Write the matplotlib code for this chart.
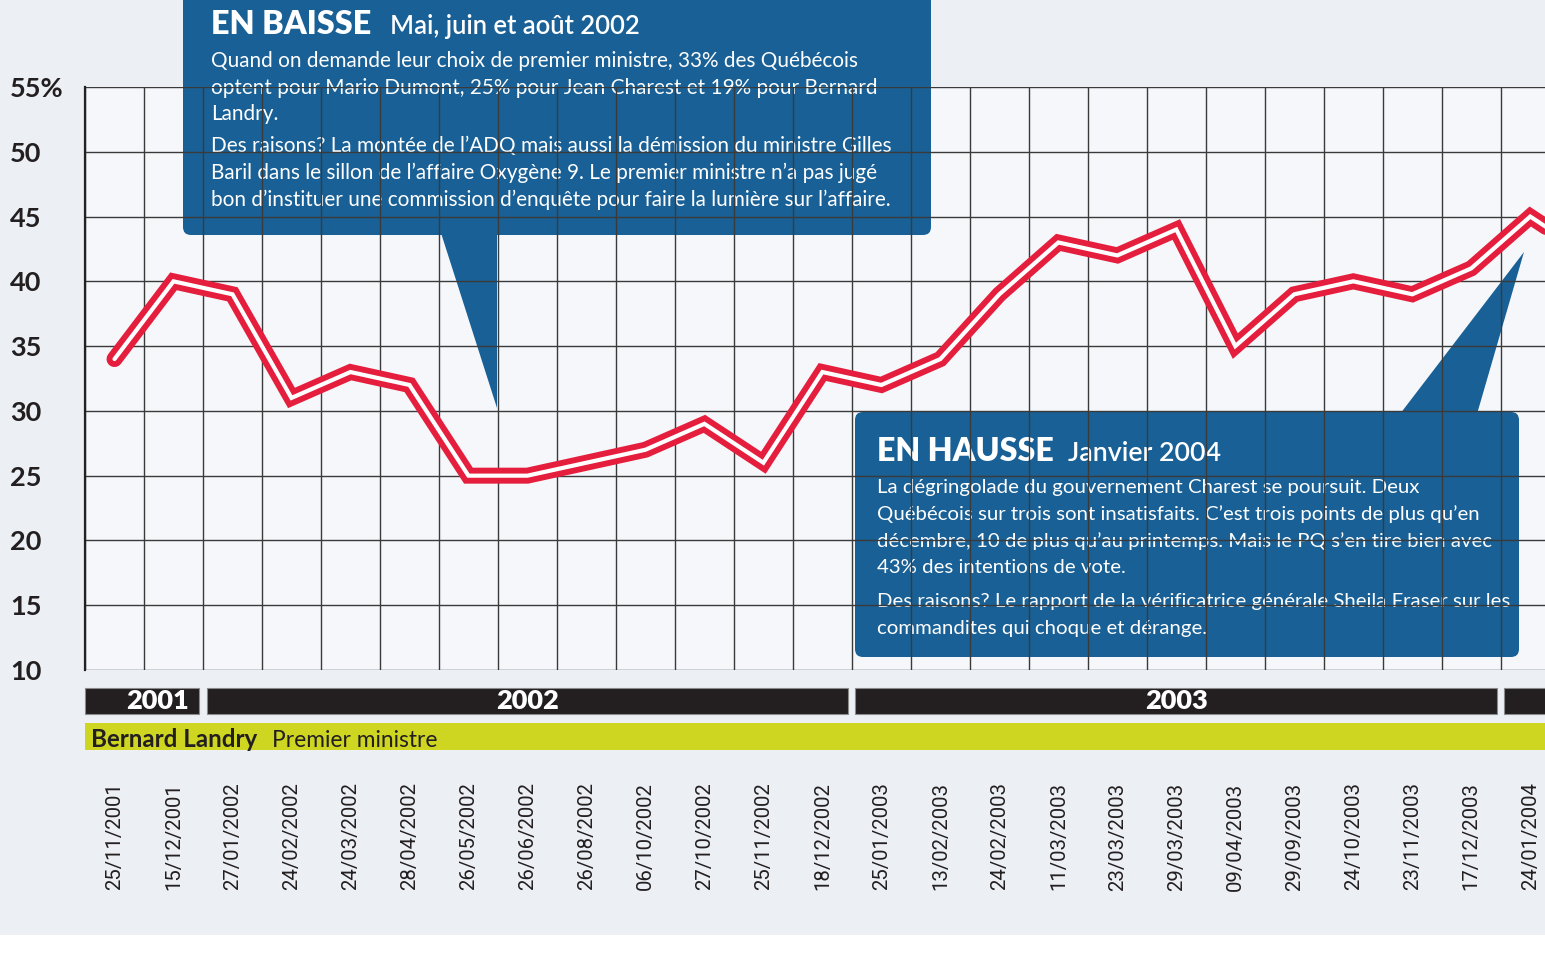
import matplotlib
matplotlib.use('Agg')
import matplotlib.pyplot as plt
from matplotlib.patches import FancyBboxPatch, Polygon, Rectangle
from matplotlib.transforms import Affine2D, blended_transform_factory
import numpy as np

# ---------------- data ----------------
dates = ['25/11/2001', '15/12/2001', '27/01/2002', '24/02/2002', '24/03/2002',
         '28/04/2002', '26/05/2002', '26/06/2002', '26/08/2002', '06/10/2002',
         '27/10/2002', '25/11/2002', '18/12/2002', '25/01/2003', '13/02/2003',
         '24/02/2003', '11/03/2003', '23/03/2003', '29/03/2003', '09/04/2003',
         '29/09/2003', '24/10/2003', '23/11/2003', '17/12/2003', '24/01/2004']
values = [34, 40, 39, 31, 33, 32, 25, 25, 26, 27, 29, 26, 33, 32, 34,
          39, 43, 42, 44, 35, 39, 40, 39, 41, 45]
next_value = 42          # following poll, cut off by the right edge
y_ticks = [10, 15, 20, 25, 30, 35, 40, 45, 50, 55]
y_labels = ['10', '15', '20', '25', '30', '35', '40', '45', '50', '55%']
years = ['2001', '2002', '2003', '']
year_bounds = [-0.5, 1.5, 12.5, 23.5, 26.5]
year_label_x = [0.73, 7.0, 18.0, 25.0]

# ---------------- style ----------------
W, H = 1545, 969
BG = '#eceff4'
PLOT_BG = '#f5f7fa'
BLUE = '#186096'
RED = '#e41e3c'
GREEN = '#cfd622'
DARK = '#231f20'
FONT = 'Lato'
DATE_FONT = ['Roboto', 'DejaVu Sans']
DATE_LEN = 108

fig = plt.figure(figsize=(W / 100, H / 100), dpi=100, facecolor='white')
fig.patches.append(Rectangle((0, 1 - 935 / H), 1, 935 / H, transform=fig.transFigure,
                             facecolor=BG, edgecolor='none', zorder=-10))
pix = Affine2D().scale(1 / W, -1 / H).translate(0, 1) + fig.transFigure
renderer = fig.canvas.get_renderer()

ax = fig.add_axes([85 / W, 1 - 670 / H, 1 - 85 / W, (670 - 87) / H])
ax.set_facecolor(PLOT_BG)

for s in ['top', 'right', 'bottom']:
    ax.spines[s].set_visible(False)
ax.spines['left'].set_color('#222222')
ax.spines['left'].set_linewidth(1.6)
ax.spines['left'].set_zorder(5)

x = np.arange(len(dates))
ax.set_xticks(x)
ax.set_xticklabels(dates, rotation=90, fontfamily=DATE_FONT, color=DARK)
ax.set_xticks(np.arange(-0.5, 25, 1), minor=True)
ax.tick_params(axis='x', which='both', length=0, pad=81)
ax.set_yticks(y_ticks)
ax.set_yticklabels(y_labels, fontfamily=FONT, fontsize=19.5, fontweight='bold', color=DARK)
ax.tick_params(axis='y', length=0, pad=54)
for lab in ax.get_yticklabels():
    lab.set_horizontalalignment('left')
ax.set_xlim(-0.5, 24.25)
ax.set_ylim(10, 55)

# fit date label size to the reference length
labs = ax.get_xticklabels()
for lab in labs:
    lab.set_fontsize(18)
h0 = labs[0].get_window_extent(renderer).height
for lab in labs:
    lab.set_fontsize(18 * DATE_LEN / h0)

ax.set_axisbelow(False)
ax.grid(which='minor', axis='x', color='#3a3a3a', linewidth=1.0)
ax.grid(which='major', axis='x', visible=False)
ax.grid(which='major', axis='y', color='#3a3a3a', linewidth=1.0)

# ---------------- series ----------------
xs = np.arange(len(values) + 1)
ys = values + [next_value]
ax.plot(xs, ys, color=RED, linewidth=11.5, solid_capstyle='round',
        solid_joinstyle='miter', zorder=3)
ax.plot(xs, ys, color='white', linewidth=3.0, solid_capstyle='round',
        solid_joinstyle='miter', zorder=4)

# ---------------- year band & premier band ----------------
band = blended_transform_factory(ax.transData, fig.transFigure)
gap = 0.12
for i, yr in enumerate(years):
    x0 = year_bounds[i] + (gap / 2 if i > 0 else 0)
    x1 = year_bounds[i + 1] - gap / 2
    r = Rectangle((x0, 1 - 714 / H), x1 - x0, 26 / H, transform=band,
                  facecolor=DARK, edgecolor='#8a8a8a', linewidth=0.8)
    ax.add_patch(r)
    r.set_clip_on(False)
    if yr:
        ax.text(year_label_x[i], 1 - 701 / H, yr, transform=band, ha='center', va='center',
                color='white', fontfamily=FONT, fontweight='heavy', fontsize=19.5, clip_on=False)

g = Rectangle((-0.5, 1 - 750 / H), 27, 27 / H, transform=band, facecolor=GREEN,
              edgecolor='none')
ax.add_patch(g)
g.set_clip_on(False)


def fitted_text(xp, yp, s, target_w, color='white', z=1.5, **kw):
    t = ax.text(xp, yp, s, transform=pix, ha='left', va='baseline', color=color,
                fontfamily=FONT, zorder=z, **kw)
    size = t.get_fontsize()
    w = t.get_window_extent(renderer).width
    t.set_fontsize(size * target_w / w)
    return t

fitted_text(91, 747, 'Bernard Landry', 258 - 91, color=DARK, z=3, fontweight='bold', fontsize=16)
fitted_text(272, 747, 'Premier ministre', 438 - 272, color=DARK, z=3, fontsize=16)

# ---------------- callouts ----------------
def add_patch(p):
    ax.add_patch(p)
    p.set_clip_on(False)

add_patch(FancyBboxPatch((183, -30), 931 - 183, 235 + 30,
                         boxstyle='round,pad=0,rounding_size=8', transform=pix,
                         facecolor=BLUE, edgecolor='none', zorder=1))
add_patch(Polygon([(441, 233), (497, 233), (497, 408)], closed=True, transform=pix,
                  facecolor=BLUE, edgecolor='none', zorder=1))
add_patch(FancyBboxPatch((855, 412), 1519 - 855, 657 - 412,
                         boxstyle='round,pad=0,rounding_size=8', transform=pix,
                         facecolor=BLUE, edgecolor='none', zorder=1))
add_patch(Polygon([(1400, 414), (1477, 414), (1524, 252)], closed=True, transform=pix,
                  facecolor=BLUE, edgecolor='none', zorder=1))

fitted_text(211, 34, 'EN BAISSE', 371 - 211, fontweight='heavy', fontsize=22)
fitted_text(390, 34, 'Mai, juin et août 2002', 640 - 390, fontweight='semibold', fontsize=17)
fitted_text(877, 461, 'EN HAUSSE', 1053 - 877, fontweight='heavy', fontsize=22)
fitted_text(1068, 461, 'Janvier 2004', 1221 - 1068, fontweight='semibold', fontsize=17)

box1 = [("Quand on demande leur choix de premier ministre, 33% des Québécois", 67),
        ("optent pour Mario Dumont, 25% pour Jean Charest et 19% pour Bernard", 94),
        ("Landry.", 120),
        ("Des raisons? La montée de l’ADQ mais aussi la démission du ministre Gilles", 152),
        ("Baril dans le sillon de l’affaire Oxygène 9. Le premier ministre n’a pas jugé", 179),
        ("bon d’instituer une commission d’enquête pour faire la lumière sur l’affaire.", 206)]
box2 = [("La dégringolade du gouvernement Charest se poursuit. Deux", 493),
        ("Québécois sur trois sont insatisfaits. C’est trois points de plus qu’en", 520),
        ("décembre, 10 de plus qu’au printemps. Mais le PQ s’en tire bien avec", 547),
        ("43% des intentions de vote.", 573),
        ("Des raisons? Le rapport de la vérificatrice générale Sheila Fraser sur les", 607),
        ("commandites qui choque et dérange.", 634)]

ref = fitted_text(211, box1[3][1], box1[3][0], 893 - 211, fontsize=15)
fs1 = ref.get_fontsize()
for s, yb in box1:
    if s != box1[3][0]:
        ax.text(211, yb, s, transform=pix, ha='left', va='baseline', color='white',
                fontfamily=FONT, fontsize=fs1, zorder=1.5)
ref = fitted_text(877, box2[4][1], box2[4][0], 1513 - 877, fontsize=15)
fs2 = ref.get_fontsize()
for s, yb in box2:
    if s != box2[4][0]:
        ax.text(877, yb, s, transform=pix, ha='left', va='baseline', color='white',
                fontfamily=FONT, fontsize=fs2, zorder=1.5)

fig.savefig('out.png', dpi=100, facecolor='white')
